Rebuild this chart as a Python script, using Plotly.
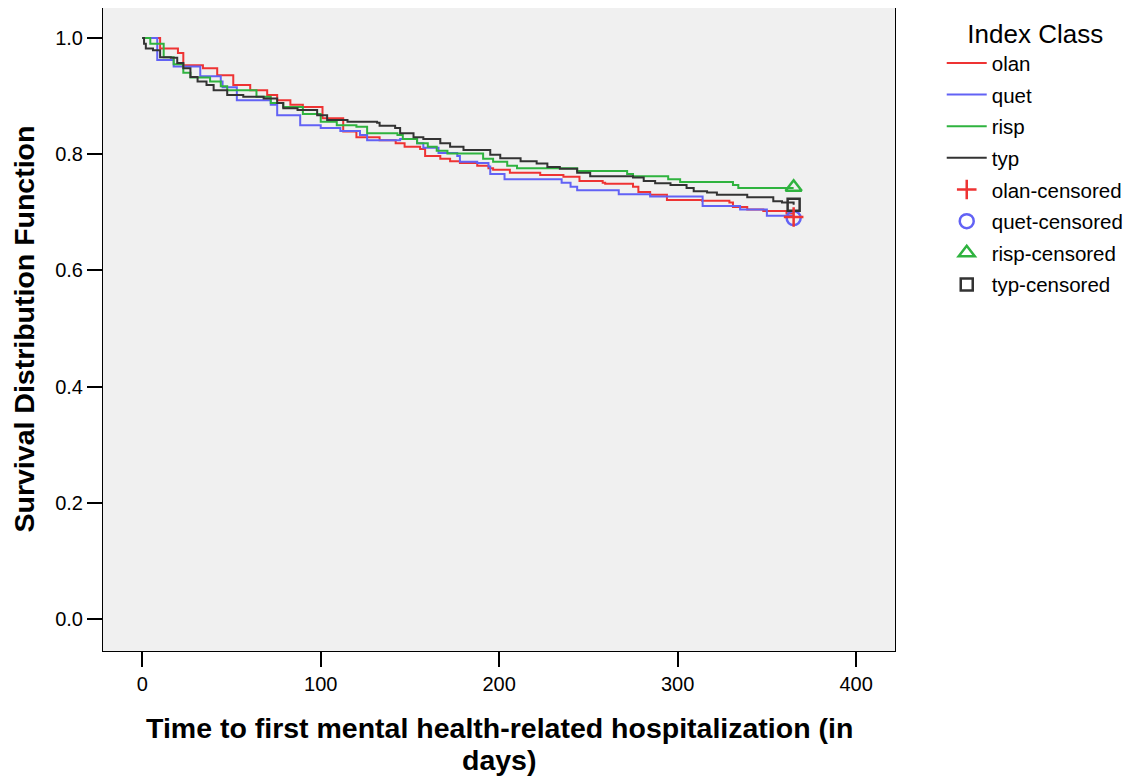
import plotly.graph_objects as go

# ---- data ----
olan_t = [0, 1.7, 10, 20, 23, 34, 42, 51, 60.5, 70, 75.6, 83, 90, 101, 112.6, 120, 133, 142, 147, 155.7, 158.5,
          167, 172.5, 178, 187.7, 194, 196.6, 206, 223, 236, 245, 258, 259.4, 275, 278, 284.6, 294, 313.7,
          329, 331, 339, 348, 361, 365]
olan_s = [1.0, 1.0, 0.982, 0.974, 0.953, 0.948, 0.936, 0.919, 0.91, 0.902, 0.893, 0.885, 0.881, 0.862, 0.839,
          0.829, 0.824, 0.819, 0.813, 0.809, 0.797, 0.792, 0.788, 0.785, 0.78, 0.776, 0.773, 0.768, 0.764,
          0.761, 0.754, 0.751, 0.749, 0.744, 0.735, 0.730, 0.721, 0.72, 0.717, 0.709, 0.705, 0.702, 0.698, 0.698]

quet_t = [0, 1.7, 8.4, 17.6, 32.5, 44, 45, 53, 72, 75.6, 88.5, 100, 111, 122, 126, 144.5, 154, 157.5, 166,
          176.5, 178, 187.7, 194, 195, 203, 235, 240, 243.7, 267, 284.6, 314, 335, 350, 365]
quet_s = [1.0, 1.0, 0.962, 0.951, 0.934, 0.925, 0.915, 0.893, 0.885, 0.867, 0.850, 0.845, 0.840, 0.833, 0.824,
          0.826, 0.819, 0.811, 0.802, 0.797, 0.787, 0.785, 0.779, 0.766, 0.757, 0.751, 0.744, 0.738, 0.731,
          0.727, 0.711, 0.705, 0.694, 0.694]

risp_t = [0, 1.7, 4.5, 12, 17.6, 23, 27, 38, 44, 47.6, 64, 72, 79, 90, 100, 109, 120, 126, 143, 146, 154, 160,
          165, 171, 191, 196.6, 204.5, 210, 243.7, 271.7, 275, 294.7, 301.4, 331, 334, 365]
risp_s = [1.0, 1.0, 0.99, 0.967, 0.955, 0.94, 0.932, 0.925, 0.917, 0.91, 0.899, 0.888, 0.881, 0.869, 0.856,
          0.85, 0.847, 0.836, 0.833, 0.826, 0.819, 0.813, 0.806, 0.801, 0.792, 0.787, 0.78, 0.776, 0.771,
          0.766, 0.762, 0.757, 0.752, 0.747, 0.742, 0.742]

typ_t = [0, 1.0, 2, 6, 10, 16, 19.6, 23, 27, 31, 36, 40, 47.6, 56.6, 68, 75.6, 79, 87, 98, 103.6, 115, 131.6,
         133, 141.7, 144.5, 152, 157.5, 167, 172.5, 180, 195, 200.6, 212, 221, 227, 234, 243.7, 251, 275,
         281, 287.4, 296, 305, 309, 316.5, 322, 339, 353.6, 358.5, 365]
typ_s = [1.0, 0.99, 0.982, 0.979, 0.967, 0.966, 0.957, 0.948, 0.933, 0.925, 0.919, 0.91, 0.902, 0.899, 0.896,
         0.888, 0.879, 0.876, 0.867, 0.859, 0.856, 0.854, 0.849, 0.845, 0.836, 0.829, 0.826, 0.819, 0.813,
         0.807, 0.799, 0.793, 0.788, 0.784, 0.778, 0.775, 0.768, 0.762, 0.760, 0.754, 0.750, 0.747, 0.742,
         0.736, 0.734, 0.730, 0.726, 0.719, 0.717, 0.713]

censor_t = [365, 365, 365, 365]
censor_s = [0.692, 0.690, 0.743, 0.713]

names = ["olan", "quet", "risp", "typ"]
colors = ["#ee3333", "#6262f5", "#2fb33f", "#333333"]
censor_symbols = ["cross-thin-open", "circle-open", "triangle-up-open", "square-open"]
x_ticks = [0, 100, 200, 300, 400]
y_ticks = [0.0, 0.2, 0.4, 0.6, 0.8, 1.0]

# ---- figure ----
fig = go.Figure()
series = [(olan_t, olan_s), (quet_t, quet_s), (risp_t, risp_s), (typ_t, typ_s)]
for i, (t, s) in enumerate(series):
    fig.add_trace(go.Scatter(x=t, y=s, mode="lines", line=dict(color=colors[i], width=2, shape="hv"),
                             name=names[i], legendgroup=names[i], legendrank=i))

for i in [1, 2, 3, 0]:  # draw the plus on top of the circle
    fig.add_trace(go.Scatter(x=[censor_t[i]], y=[censor_s[i]], mode="markers",
                             marker=dict(symbol=censor_symbols[i], size=14 if i != 3 else 12,
                                         color=colors[i], line=dict(color=colors[i], width=2.5)),
                             name=names[i] + "-censored", legendgroup=names[i] + "-c",
                             legendrank=10 + i))

AX_FONT = dict(family="Liberation Sans, Arial, sans-serif", size=28.5, color="black")
fig.update_layout(
    width=1126, height=770,
    margin=dict(l=95, r=239, t=0, b=127),
    paper_bgcolor="white", plot_bgcolor="#f0f0f0",
    font=dict(family="Liberation Sans, Arial, sans-serif", color="black"),
    showlegend=True,
    legend=dict(x=1.059, y=0.998, xanchor="left", yanchor="top",
                title=dict(text="Index Class", font=dict(size=26), side="top center"),
                font=dict(size=20.5), tracegroupgap=2, bgcolor="rgba(0,0,0,0)",
                itemwidth=40),
    annotations=[
        dict(text="<b>Time to first mental health-related hospitalization (in</b>", xref="paper", yref="paper",
             x=0.5, y=0, yshift=-77, xanchor="center", yanchor="middle", showarrow=False, font=AX_FONT),
        dict(text="<b>days)</b>", xref="paper", yref="paper",
             x=0.5, y=0, yshift=-109, xanchor="center", yanchor="middle", showarrow=False, font=AX_FONT),
        dict(text="<b>Survival Distribution Function</b>", xref="paper", yref="paper", textangle=-90,
             x=0, xshift=-80, y=0.5, xanchor="center", yanchor="middle", showarrow=False, font=AX_FONT),
    ],
)
fig.update_xaxes(range=[-22, 421.8], tickvals=x_ticks, ticks="outside", ticklen=15,
                 tickwidth=2, tickcolor="black", showline=True, linecolor="black", linewidth=1, mirror=True,
                 showgrid=False, zeroline=False, tickfont=dict(size=20), automargin=False)
fig.update_yaxes(range=[-0.0551, 1.0516], tickvals=y_ticks, tickformat=".1f",
                 ticks="outside", ticklen=15, tickwidth=2, tickcolor="black", showline=True,
                 linecolor="black", linewidth=1, mirror=True, showgrid=False, zeroline=False,
                 tickfont=dict(size=20), automargin=False)

fig.write_html("out.html")
